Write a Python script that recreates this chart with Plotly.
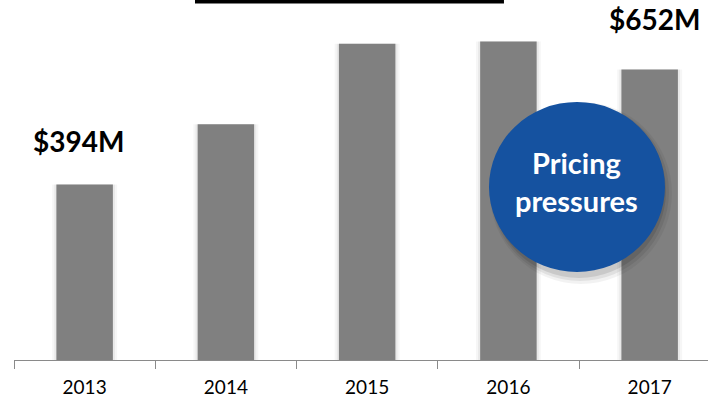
import plotly.graph_objects as go

# Annual revenue, $M
years = ["2013", "2014", "2015", "2016", "2017"]
revenue = [394, 529, 710, 715, 652]

# Only the first and last years carry a value callout
callout_years = ["2013", "2017"]
callout_values = [394, 652]
callout_text = ["$394M", "$652M"]

bar_color = "#808080"
axis_color = "#8a8a8a"
badge_color = "#1552A0"

fig = go.Figure()

# soft shadow behind each bar
for w, a in [(0.46, 0.035), (0.43, 0.05)]:
    fig.add_trace(go.Bar(
        x=years, y=revenue, width=w,
        marker=dict(color=f"rgba(0,0,0,{a})", line=dict(width=0)),
        hoverinfo="skip", showlegend=False,
    ))

fig.add_trace(go.Bar(
    x=years, y=revenue, width=0.4,
    marker=dict(color=bar_color, line=dict(width=0)),
    showlegend=False,
))

# value callouts: positioned by category index so year strings are not read as numbers
for yr, val, txt, xs, ys in zip(callout_years, callout_values, callout_text, [-6, 5], [24, 32]):
    fig.add_annotation(
        x=years.index(yr), y=val, text=f"<b>{txt}</b>", showarrow=False,
        xanchor="center", yanchor="bottom", xshift=xs, yshift=ys,
        font=dict(family="Lato", size=28, color="black"),
    )

shapes = []
# heading rule along the top edge
shapes.append(dict(type="rect", xref="paper", yref="paper",
                   x0=0.2608, x1=0.706, y0=0.9905, y1=1.02,
                   fillcolor="black", line=dict(width=0), layer="above"))

# "Pricing pressures" badge with a soft drop shadow
cx, cy = 0.8112, 0.4806
for dx, dy, r, a in [(4, -6, 91, 0.05), (3, -5, 89, 0.07), (2, -4, 87, 0.10)]:
    shapes.append(dict(type="circle", xref="paper", yref="paper",
                       xsizemode="pixel", ysizemode="pixel",
                       xanchor=cx, yanchor=cy,
                       x0=-r + dx, x1=r + dx, y0=-r + dy, y1=r + dy,
                       fillcolor=f"rgba(0,0,0,{a})", line=dict(width=0),
                       layer="above"))
shapes.append(dict(type="circle", xref="paper", yref="paper",
                   xsizemode="pixel", ysizemode="pixel",
                   xanchor=cx, yanchor=cy,
                   x0=-88, x1=88, y0=-85, y1=85,
                   fillcolor=badge_color, line=dict(width=0), layer="above"))

fig.add_annotation(
    xref="paper", yref="paper", x=cx, y=cy, yshift=5,
    text="<b>Pricing<br>pressures</b>", showarrow=False,
    xanchor="center", yanchor="middle",
    font=dict(family="Lato", size=29, color="white"),
)

fig.update_layout(
    width=708, height=406,
    margin=dict(l=14, r=0, t=0, b=46),
    paper_bgcolor="white", plot_bgcolor="white",
    barmode="overlay",
    shapes=shapes,
    xaxis=dict(
        type="category", range=[-0.5, 4.413],
        tickson="boundaries", ticks="outside", ticklen=8,
        tickcolor=axis_color, tickwidth=1,
        showline=True, linecolor=axis_color, linewidth=1,
        showgrid=False, zeroline=False,
        ticklabelstandoff=10,
        tickfont=dict(family="Lato", size=19, color="black"),
    ),
    yaxis=dict(
        range=[0, 808], visible=False, showgrid=False, zeroline=False,
    ),
)

fig.write_html("out.html")
